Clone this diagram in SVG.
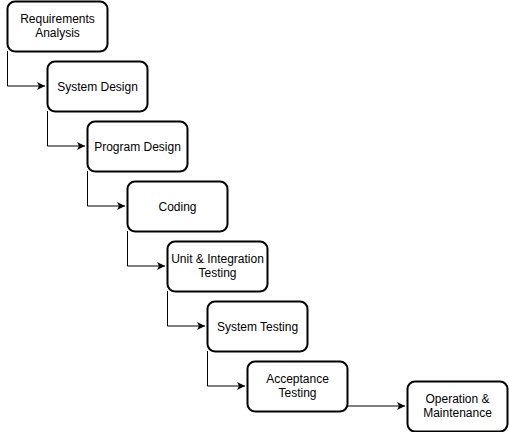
<svg xmlns="http://www.w3.org/2000/svg" width="509" height="432" viewBox="0 0 509 432">
<style>
.box{fill:#fff;stroke:#000;stroke-width:2}
.lbl{font-family:"Liberation Sans",Arial,sans-serif;font-size:12px;fill:#000;text-anchor:middle}
.edge{fill:none;stroke:#000;stroke-width:1}
</style>
<defs>
<marker id="arr" markerWidth="10" markerHeight="10" refX="8" refY="4" orient="auto" markerUnits="userSpaceOnUse">
<path d="M0,0 L8,4 L0,8 L2,4 Z" fill="#000"/>
</marker>
</defs>
<rect width="509" height="432" fill="#fff"/>
<g id="connectors">
<path class="edge" d="M7.5,51 V86 H45" marker-end="url(#arr)"/>
<path class="edge" d="M47.5,111 V146 H85" marker-end="url(#arr)"/>
<path class="edge" d="M87.5,171 V206 H125" marker-end="url(#arr)"/>
<path class="edge" d="M127.5,231 V266 H165" marker-end="url(#arr)"/>
<path class="edge" d="M167.5,291 V326 H205" marker-end="url(#arr)"/>
<path class="edge" d="M207.5,351 V386 H245" marker-end="url(#arr)"/>
<path class="edge" d="M347.5,406 H405" marker-end="url(#arr)"/>
</g>
<g id="n1"><rect class="box" x="7.5" y="1.5" width="100" height="50" rx="7.5"/><text class="lbl" x="57.5" y="22.5">Requirements</text><text class="lbl" x="57.5" y="37">Analysis</text></g>
<g id="n2"><rect class="box" x="47.5" y="61.5" width="100" height="50" rx="7.5"/><text class="lbl" x="97.5" y="90.5">System Design</text></g>
<g id="n3"><rect class="box" x="87.5" y="121.5" width="100" height="50" rx="7.5"/><text class="lbl" x="137.5" y="150.5">Program Design</text></g>
<g id="n4"><rect class="box" x="127.5" y="181.5" width="100" height="50" rx="7.5"/><text class="lbl" x="177.5" y="210.5">Coding</text></g>
<g id="n5"><rect class="box" x="167.5" y="241.5" width="100" height="50" rx="7.5"/><text class="lbl" x="217.5" y="262.5">Unit &amp; Integration</text><text class="lbl" x="217.5" y="277">Testing</text></g>
<g id="n6"><rect class="box" x="207.5" y="301.5" width="100" height="50" rx="7.5"/><text class="lbl" x="257.5" y="330.5">System Testing</text></g>
<g id="n7"><rect class="box" x="247.5" y="361.5" width="100" height="50" rx="7.5"/><text class="lbl" x="297.5" y="382.5">Acceptance</text><text class="lbl" x="297.5" y="397">Testing</text></g>
<g id="n8"><rect class="box" x="407.5" y="381.5" width="100" height="50" rx="7.5"/><text class="lbl" x="457.5" y="402.5">Operation &amp;</text><text class="lbl" x="457.5" y="417">Maintenance</text></g>
</svg>
